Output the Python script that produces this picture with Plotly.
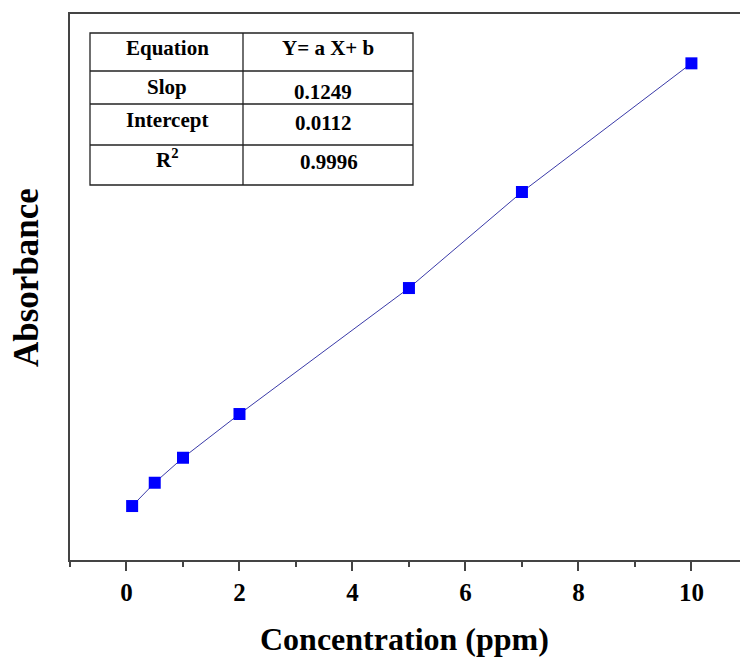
import plotly.graph_objects as go

conc = [0.1, 0.5, 1, 2, 5, 7, 10]
absorb = [0.0237, 0.0888, 0.1586, 0.2807, 0.6326, 0.9008, 1.2602]
x_ticks = [0, 2, 4, 6, 8, 10]
table_rows = [["Equation", "Y= a X+ b"], ["Slop", "0.1249"], ["Intercept", "0.0112"], ["R<sup>2</sup>", "0.9996"]]

W, H = 740, 658
L, R, T, B = 70, 0, 14, 98
pw, ph = W - L - R, H - T - B

def px(x):
    return (x - L) / pw

def py(y):
    return (H - B - y) / ph

FONT = "Liberation Serif"

fig = go.Figure()
fig.add_trace(go.Scatter(
    x=conc, y=absorb, mode="lines+markers",
    line=dict(color="#3a3aa8", width=1),
    marker=dict(symbol="square", size=12, color="#0000ff", line=dict(width=0)),
    showlegend=False,
))

shapes = []
tx0, tx1, tcol = 90, 413, 243
ty = [33, 71, 104, 145, 185]
line = dict(color="#222222", width=1.3)
shapes.append(dict(type="rect", xref="paper", yref="paper", x0=px(tx0), x1=px(tx1), y0=py(ty[-1]), y1=py(ty[0]), line=line))
shapes.append(dict(type="line", xref="paper", yref="paper", x0=px(tcol), x1=px(tcol), y0=py(ty[-1]), y1=py(ty[0]), line=line))
for yy in ty[1:-1]:
    shapes.append(dict(type="line", xref="paper", yref="paper", x0=px(tx0), x1=px(tx1), y0=py(yy), y1=py(yy), line=line))

annotations = []
left_y = [48, 87, 120, 159]
right_y = [48, 92, 123, 162]
right_x = [328, 323, 323, 329]
for i, (a, b) in enumerate(table_rows):
    annotations.append(dict(xref="paper", yref="paper", x=px(167), y=py(left_y[i]), text=f"<b>{a}</b>",
                            showarrow=False, xanchor="center", yanchor="middle",
                            font=dict(family=FONT, size=21, color="black")))
    annotations.append(dict(xref="paper", yref="paper", x=px(right_x[i]), y=py(right_y[i]), text=f"<b>{b}</b>",
                            showarrow=False, xanchor="center", yanchor="middle",
                            font=dict(family=FONT, size=21, color="black")))

annotations.append(dict(xref="paper", yref="paper", x=px(404), y=py(639), text="<b>Concentration (ppm)</b>",
                        showarrow=False, xanchor="center", yanchor="middle",
                        font=dict(family=FONT, size=32, color="black")))
annotations.append(dict(xref="paper", yref="paper", x=px(27), y=py(278), text="<b>Absorbance</b>", textangle=-90,
                        showarrow=False, xanchor="center", yanchor="middle",
                        font=dict(family=FONT, size=35, color="black")))

fig.update_layout(
    width=W, height=H,
    margin=dict(l=L, r=R, t=T, b=B),
    paper_bgcolor="white", plot_bgcolor="white",
    shapes=shapes, annotations=annotations,
    xaxis=dict(range=[-1, 10.86], tickvals=x_ticks, ticktext=[f"<b>{v}</b>" for v in x_ticks],
               showgrid=False, zeroline=False, showline=True, linecolor="#444444", linewidth=1.6,
               mirror=True, ticks="outside", ticklen=9, tickwidth=1.5, tickcolor="#444444",
               tickfont=dict(family=FONT, size=25, color="black"),
               minor=dict(dtick=1, tick0=1, ticks="outside", ticklen=5, tickwidth=1.5, tickcolor="#444444", showgrid=False)),
    yaxis=dict(range=[-0.127, 1.398], showticklabels=False, ticks="", showgrid=False, zeroline=False,
               showline=True, linecolor="#444444", linewidth=1.6),
)

fig.write_html("out.html")
